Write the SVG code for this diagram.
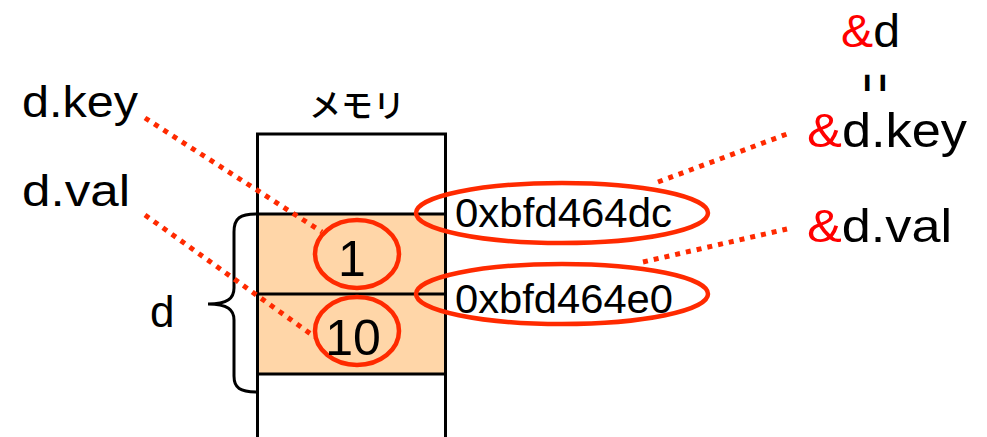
<svg xmlns="http://www.w3.org/2000/svg" width="987" height="437" viewBox="0 0 987 437">
<style>
.t{font-family:"Liberation Sans",Arial,sans-serif;fill:#000}
.r{fill:#FF0000}
.jp{font-family:"Noto Sans CJK JP","Liberation Sans",sans-serif;fill:#000;font-weight:500}
.ring{fill:none;stroke:#FF2A00;stroke-width:4.5}
.dot{fill:none;stroke:#FF2A00;stroke-width:5;stroke-dasharray:5 6}
.ln{stroke:#000;stroke-width:3;fill:none}
</style>
<rect width="987" height="437" fill="#fff"/>
<g id="memory">
  <rect x="257.5" y="214" width="188" height="160" fill="#FFD6A8"/>
  <path class="ln" d="M257.5,440 V134 H445.5 V440"/>
  <path class="ln" d="M257.5,214 H445.5 M257.5,294 H445.5 M257.5,374 H445.5"/>
  <text class="jp" x="357" y="117" font-size="32" text-anchor="middle">メモリ</text>
</g>
<g id="d-brace">
  <path class="ln" d="M257,214 C240,214 234,218 234,232 L234,288 C234,298 228,304 208,304 C228,304 234,310 234,320 L234,376 C234,388 240,392 257,392"/>
  <text class="t" x="150" y="327" font-size="44">d</text>
</g>
<g id="key-cell">
  <ellipse class="ring" cx="357" cy="254" rx="42" ry="34"/>
  <text class="t" x="352" y="276" font-size="50" text-anchor="middle">1</text>
</g>
<g id="val-cell">
  <ellipse class="ring" cx="357" cy="331" rx="42" ry="34"/>
  <text class="t" x="353" y="355" font-size="50" text-anchor="middle">10</text>
</g>
<g id="addr-key">
  <ellipse class="ring" cx="562" cy="213" rx="146" ry="30"/>
  <text class="t" x="455" y="227" font-size="41" textLength="217" lengthAdjust="spacingAndGlyphs">0xbfd464dc</text>
</g>
<g id="addr-val">
  <ellipse class="ring" cx="562" cy="294" rx="146" ry="30"/>
  <text class="t" x="455" y="313" font-size="41" textLength="218" lengthAdjust="spacingAndGlyphs">0xbfd464e0</text>
</g>
<g id="label-dkey">
  <text class="t" x="22" y="117" font-size="45" textLength="116" lengthAdjust="spacingAndGlyphs">d.key</text>
</g>
<g id="label-dval">
  <text class="t" x="22" y="206" font-size="45" textLength="108" lengthAdjust="spacingAndGlyphs">d.val</text>
</g>
<g id="label-amp-d">
  <text class="t" x="841" y="47" font-size="47" textLength="59" lengthAdjust="spacingAndGlyphs"><tspan class="r">&amp;</tspan>d</text>
  <text class="t" font-size="44" text-anchor="middle" y="15" transform="translate(876,83) rotate(90) scale(0.75,1.4)">=</text>
</g>
<g id="label-amp-dkey">
  <text class="t" x="807" y="147" font-size="48" textLength="160" lengthAdjust="spacingAndGlyphs"><tspan class="r">&amp;</tspan>d.key</text>
</g>
<g id="label-amp-dval">
  <text class="t" x="807" y="242" font-size="47" textLength="145" lengthAdjust="spacingAndGlyphs"><tspan class="r">&amp;</tspan>d.val</text>
</g>
<g id="connectors">
  <line class="dot" x1="145" y1="118" x2="322" y2="232"/>
  <line class="dot" x1="145" y1="215" x2="315" y2="337"/>
  <line class="dot" x1="658" y1="182" x2="787" y2="134"/>
  <line class="dot" x1="643" y1="262" x2="787" y2="229"/>
</g>
</svg>
